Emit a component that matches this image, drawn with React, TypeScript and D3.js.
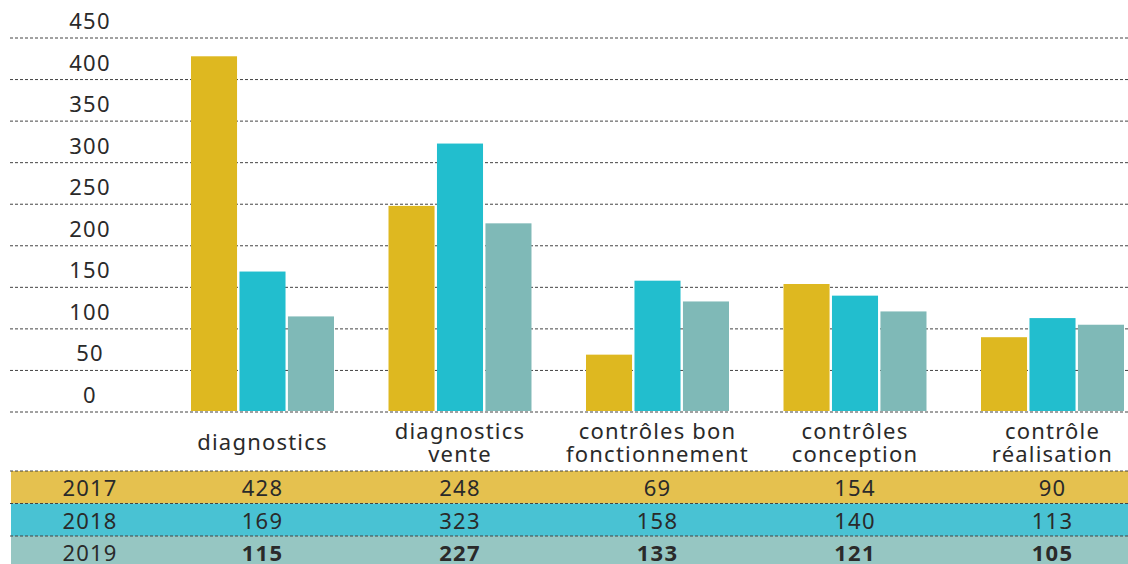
import React from "react";
import * as d3 from "d3";

const categories = ["diagnostics", "diagnostics vente", "contrôles bon fonctionnement", "contrôles conception", "contrôle réalisation"];
const categoryLines = [["diagnostics"], ["diagnostics", "vente"], ["contrôles bon", "fonctionnement"], ["contrôles", "conception"], ["contrôle", "réalisation"]];
const years = ["2017", "2018", "2019"];
const values2017 = [428, 248, 69, 154, 90];
const values2018 = [169, 323, 158, 140, 113];
const values2019 = [115, 227, 133, 121, 105];
const yTicks = [0, 50, 100, 150, 200, 250, 300, 350, 400, 450];

const barColors = ["#DEB820", "#22BECE", "#7FB9B7"];
const rowColors = ["#E5C14F", "#49C2D3", "#96C6C2"];
const FONT = "'Noto Sans', sans-serif";
const TEXT = "#2a2a2a";

export default function App() {
  const W = 1128, H = 564;
  const series = [values2017, values2018, values2019];
  const y = d3.scaleLinear().domain([0, 450]).range([412, 38]);
  const x0 = d3.scaleBand<string>().domain(categories).range([191, 1124]).paddingInner(0.276).paddingOuter(0);
  const x1 = d3.scaleBand<string>().domain(years).range([0, x0.bandwidth()]).paddingInner(0.05);
  const rowTop = [471, 503.5, 536];
  const rowH = 32.5;
  const fs = 22;
  const ls = 1.2;

  return (
    <svg width={W} height={H} style={{ position: "absolute", left: 0, top: 0, display: "block" }} fontFamily={FONT}>
      <rect x={0} y={0} width={W} height={H} fill="#fff" />
      {yTicks.map((t) => (
        <g key={t}>
          <line x1={10} x2={W} y1={y(t)} y2={y(t)} stroke="#444" strokeWidth={1} strokeDasharray="3,2" />
          <text x={90} y={y(t) - 9} textAnchor="middle" fontSize={fs} letterSpacing={ls} fill={TEXT}>{t}</text>
        </g>
      ))}
      {categories.map((c, i) => (
        <g key={c} transform={`translate(${x0(c)},0)`}>
          {years.map((yr, j) => (
            <rect key={yr} x={x1(yr)} y={y(series[j][i])} width={x1.bandwidth()} height={y(0) - y(series[j][i]) - 1} fill={barColors[j]} />
          ))}
        </g>
      ))}
      {categories.map((c, i) => {
        const cx = (x0(c) as number) + x0.bandwidth() / 2;
        const lines = categoryLines[i];
        return (
          <text key={c} textAnchor="middle" fontSize={fs} letterSpacing={ls} fill={TEXT}>
            {lines.map((l, k) => (
              <tspan key={k} x={cx} y={lines.length === 1 ? 450 : 439 + k * 23}>{l}</tspan>
            ))}
          </text>
        );
      })}
      {years.map((yr, j) => (
        <g key={yr}>
          <rect x={11} y={rowTop[j]} width={W - 11} height={j === 2 ? H - rowTop[j] : rowH} fill={rowColors[j]} />
          <line x1={10} x2={W} y1={rowTop[j]} y2={rowTop[j]} stroke="#444" strokeWidth={1} strokeDasharray="3,2" />
          <text x={90} y={rowTop[j] + 25} textAnchor="middle" fontSize={fs} letterSpacing={ls} fill={TEXT}>{yr}</text>
          {categories.map((c, i) => (
            <text key={c} x={(x0(c) as number) + x0.bandwidth() / 2} y={rowTop[j] + 25} textAnchor="middle" fontSize={fs} letterSpacing={ls} fontWeight={j === 2 ? 700 : 400} fill={TEXT}>
              {series[j][i]}
            </text>
          ))}
        </g>
      ))}
    </svg>
  );
}
